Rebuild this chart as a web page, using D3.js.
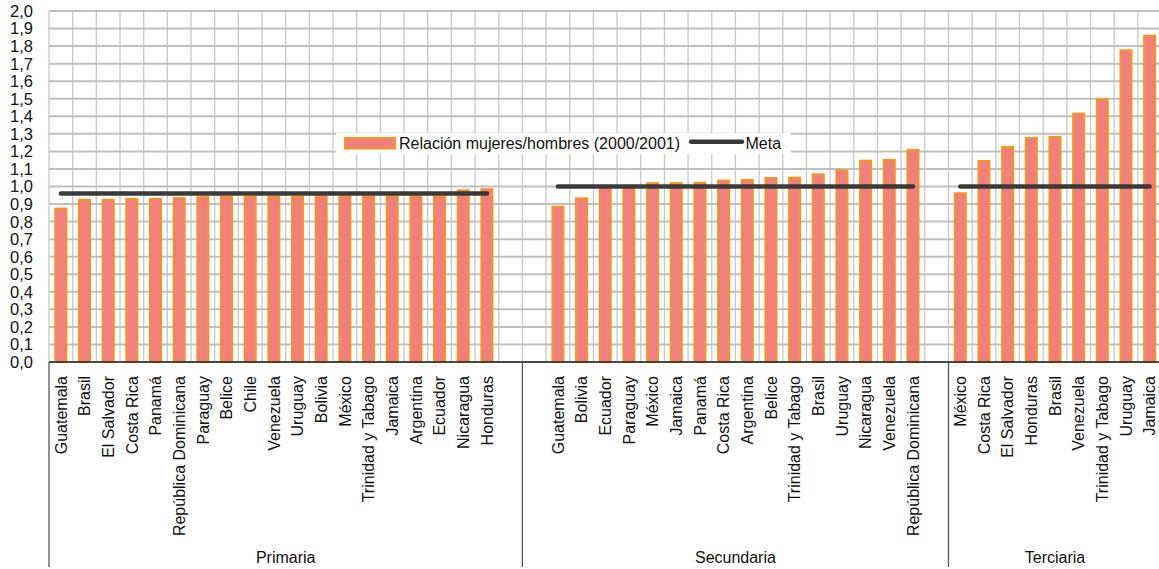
<!DOCTYPE html>
<html>
<head>
<meta charset="utf-8">
<script src="https://cdn.jsdelivr.net/npm/d3@7"></script>
<style>
  html, body { margin: 0; padding: 0; background: #fff; }
  svg { display: block; font-family: "Liberation Sans", Arial, Helvetica, sans-serif; }
</style>
</head>
<body>
<svg id="chart" width="1159" height="569"></svg>
<script>
// ---- Data ----
const groups = ["Primaria", "Secundaria", "Terciaria"];

const primariaCountries = ["Guatemala", "Brasil", "El Salvador", "Costa Rica", "Panamá", "República Dominicana",
  "Paraguay", "Belice", "Chile", "Venezuela", "Uruguay", "Bolivia", "México", "Trinidad y Tabago",
  "Jamaica", "Argentina", "Ecuador", "Nicaragua", "Honduras"];
const primariaValues = [0.88, 0.93, 0.93, 0.935, 0.935, 0.94, 0.945, 0.946, 0.946, 0.946, 0.946, 0.95, 0.95,
  0.95, 0.95, 0.95, 0.95, 0.984, 0.99];
const primariaMeta = 0.96;

const secundariaCountries = ["Guatemala", "Bolivia", "Ecuador", "Paraguay", "México", "Jamaica", "Panamá",
  "Costa Rica", "Argentina", "Belice", "Trinidad y Tabago", "Brasil", "Uruguay", "Nicaragua", "Venezuela",
  "República Dominicana"];
const secundariaValues = [0.89, 0.938, 1.0, 1.005, 1.025, 1.025, 1.027, 1.039, 1.043, 1.054, 1.056, 1.075,
  1.098, 1.153, 1.157, 1.214];
const secundariaMeta = 1.0;

const terciariaCountries = ["México", "Costa Rica", "El Salvador", "Honduras", "Brasil", "Venezuela",
  "Trinidad y Tabago", "Uruguay", "Jamaica"];
const terciariaValues = [0.967, 1.151, 1.231, 1.282, 1.288, 1.421, 1.502, 1.782, 1.865];
const terciariaMeta = 1.0;

const yTickValues = [0.0, 0.1, 0.2, 0.3, 0.4, 0.5, 0.6, 0.7, 0.8, 0.9, 1.0, 1.1, 1.2, 1.3, 1.4, 1.5, 1.6, 1.7, 1.8, 1.9, 2.0];

const seriesName = "Relación mujeres/hombres (2000/2001)";
const metaName = "Meta";

// ---- Build slots (with blank separators like the original category axis) ----
const groupDefs = [
  { name: groups[0], countries: primariaCountries, values: primariaValues, meta: primariaMeta, before: 0, after: 1 },
  { name: groups[1], countries: secundariaCountries, values: secundariaValues, meta: secundariaMeta, before: 1, after: 1 },
  { name: groups[2], countries: terciariaCountries, values: terciariaValues, meta: terciariaMeta, before: 0, after: 0 }
];
const slots = [];
const groupSpans = [];
groupDefs.forEach((g, gi) => {
  const start = slots.length;
  for (let i = 0; i < g.before; i++) slots.push({ id: "b" + gi + "a" + i, blank: true });
  g.items = g.countries.map((c, i) => {
    const s = { id: g.name + "|" + c, country: c, value: g.values[i], meta: g.meta, group: g.name };
    slots.push(s);
    return s;
  });
  for (let i = 0; i < g.after; i++) slots.push({ id: "b" + gi + "z" + i, blank: true });
  groupSpans.push({ name: g.name, start: start, end: slots.length });
});

// ---- Layout ----
const plotLeft = 49, plotRight = 1161.5, plotTop = 11, plotBottom = 362;
const svg = d3.select("#chart");

const x = d3.scaleBand()
  .domain(slots.map(s => s.id))
  .range([plotLeft, plotRight])
  .paddingInner(0.45)
  .paddingOuter(0.225);
const step = x.step();
const boundary = k => plotLeft + k * step;

const y = d3.scaleLinear().domain([0, 2]).range([plotBottom, plotTop]);

// ---- Grid ----
const grid = svg.append("g");
grid.selectAll("line.v")
  .data(d3.range(slots.length + 1))
  .join("line")
  .attr("class", "v")
  .attr("x1", k => boundary(k)).attr("x2", k => boundary(k))
  .attr("y1", plotTop).attr("y2", plotBottom)
  .attr("stroke", "#c8c8c8").attr("stroke-width", 1.3);
grid.selectAll("line.h")
  .data(yTickValues)
  .join("line")
  .attr("class", "h")
  .attr("x1", plotLeft).attr("x2", plotRight)
  .attr("y1", d => y(d)).attr("y2", d => y(d))
  .attr("stroke", "#bfbfbf").attr("stroke-width", 2);

// ---- Y labels ----
const fmt = d => d3.format(".1f")(d).replace(".", ",");
svg.append("g").selectAll("text")
  .data(yTickValues)
  .join("text")
  .attr("x", 33).attr("y", d => y(d))
  .attr("dy", "0.36em")
  .attr("text-anchor", "end")
  .attr("font-size", 16.5)
  .attr("fill", "#111")
  .text(fmt);

// ---- Bars ----
const items = slots.filter(s => !s.blank);
const bw = x.bandwidth();
svg.append("g").selectAll("rect")
  .data(items)
  .join("rect")
  .attr("x", d => x(d.id) + 1)
  .attr("width", bw - 2)
  .attr("y", d => y(d.value) + 1)
  .attr("height", d => plotBottom - y(d.value) - 1)
  .attr("fill", "#f27f7f")
  .attr("stroke", "#f7941d")
  .attr("stroke-width", 2);

// ---- Meta lines ----
const line = d3.line()
  .x(d => x(d.id) + bw / 2)
  .y(d => y(d.meta));
svg.append("g").selectAll("path")
  .data(groupDefs)
  .join("path")
  .attr("d", g => line(g.items))
  .attr("fill", "none")
  .attr("stroke", "#3a3a3a")
  .attr("stroke-width", 4.5)
  .attr("stroke-linecap", "round");

// ---- Axis lines ----
svg.append("line")
  .attr("x1", plotLeft).attr("x2", plotRight)
  .attr("y1", plotBottom).attr("y2", plotBottom)
  .attr("stroke", "#222").attr("stroke-width", 1.6);

const dividers = [0].concat(groupSpans.map(s => s.end));
svg.append("g").selectAll("line")
  .data(dividers)
  .join("line")
  .attr("x1", k => boundary(k)).attr("x2", k => boundary(k))
  .attr("y1", plotBottom).attr("y2", 567)
  .attr("stroke", "#555").attr("stroke-width", 1.3);

// ---- Category labels ----
svg.append("g").selectAll("text")
  .data(items)
  .join("text")
  .attr("transform", d => `translate(${x(d.id) + bw / 2},376) rotate(-90)`)
  .attr("dy", "0.36em")
  .attr("text-anchor", "end")
  .attr("font-size", 16)
  .attr("fill", "#111")
  .text(d => d.country);

// ---- Group labels ----
svg.append("g").selectAll("text")
  .data(groupSpans)
  .join("text")
  .attr("x", s => (boundary(s.start) + boundary(s.end)) / 2)
  .attr("y", 562.5)
  .attr("text-anchor", "middle")
  .attr("font-size", 16)
  .attr("fill", "#111")
  .text(s => s.name);

// ---- Legend ----
const lg = svg.append("g");
lg.append("rect")
  .attr("x", 336).attr("y", 133).attr("width", 455).attr("height", 21)
  .attr("fill", "#fff");
lg.append("rect")
  .attr("x", 345).attr("y", 138).attr("width", 50).attr("height", 10.5)
  .attr("fill", "#f27f7f").attr("stroke", "#f7941d").attr("stroke-width", 2);
lg.append("text")
  .attr("x", 399).attr("y", 149.3)
  .attr("font-size", 16).attr("fill", "#111")
  .text(seriesName);
lg.append("line")
  .attr("x1", 691).attr("x2", 742)
  .attr("y1", 141.7).attr("y2", 141.7)
  .attr("stroke", "#3a3a3a").attr("stroke-width", 4.5).attr("stroke-linecap", "round");
lg.append("text")
  .attr("x", 745.5).attr("y", 149.3)
  .attr("font-size", 16).attr("fill", "#111")
  .text(metaName);
</script>
</body>
</html>
